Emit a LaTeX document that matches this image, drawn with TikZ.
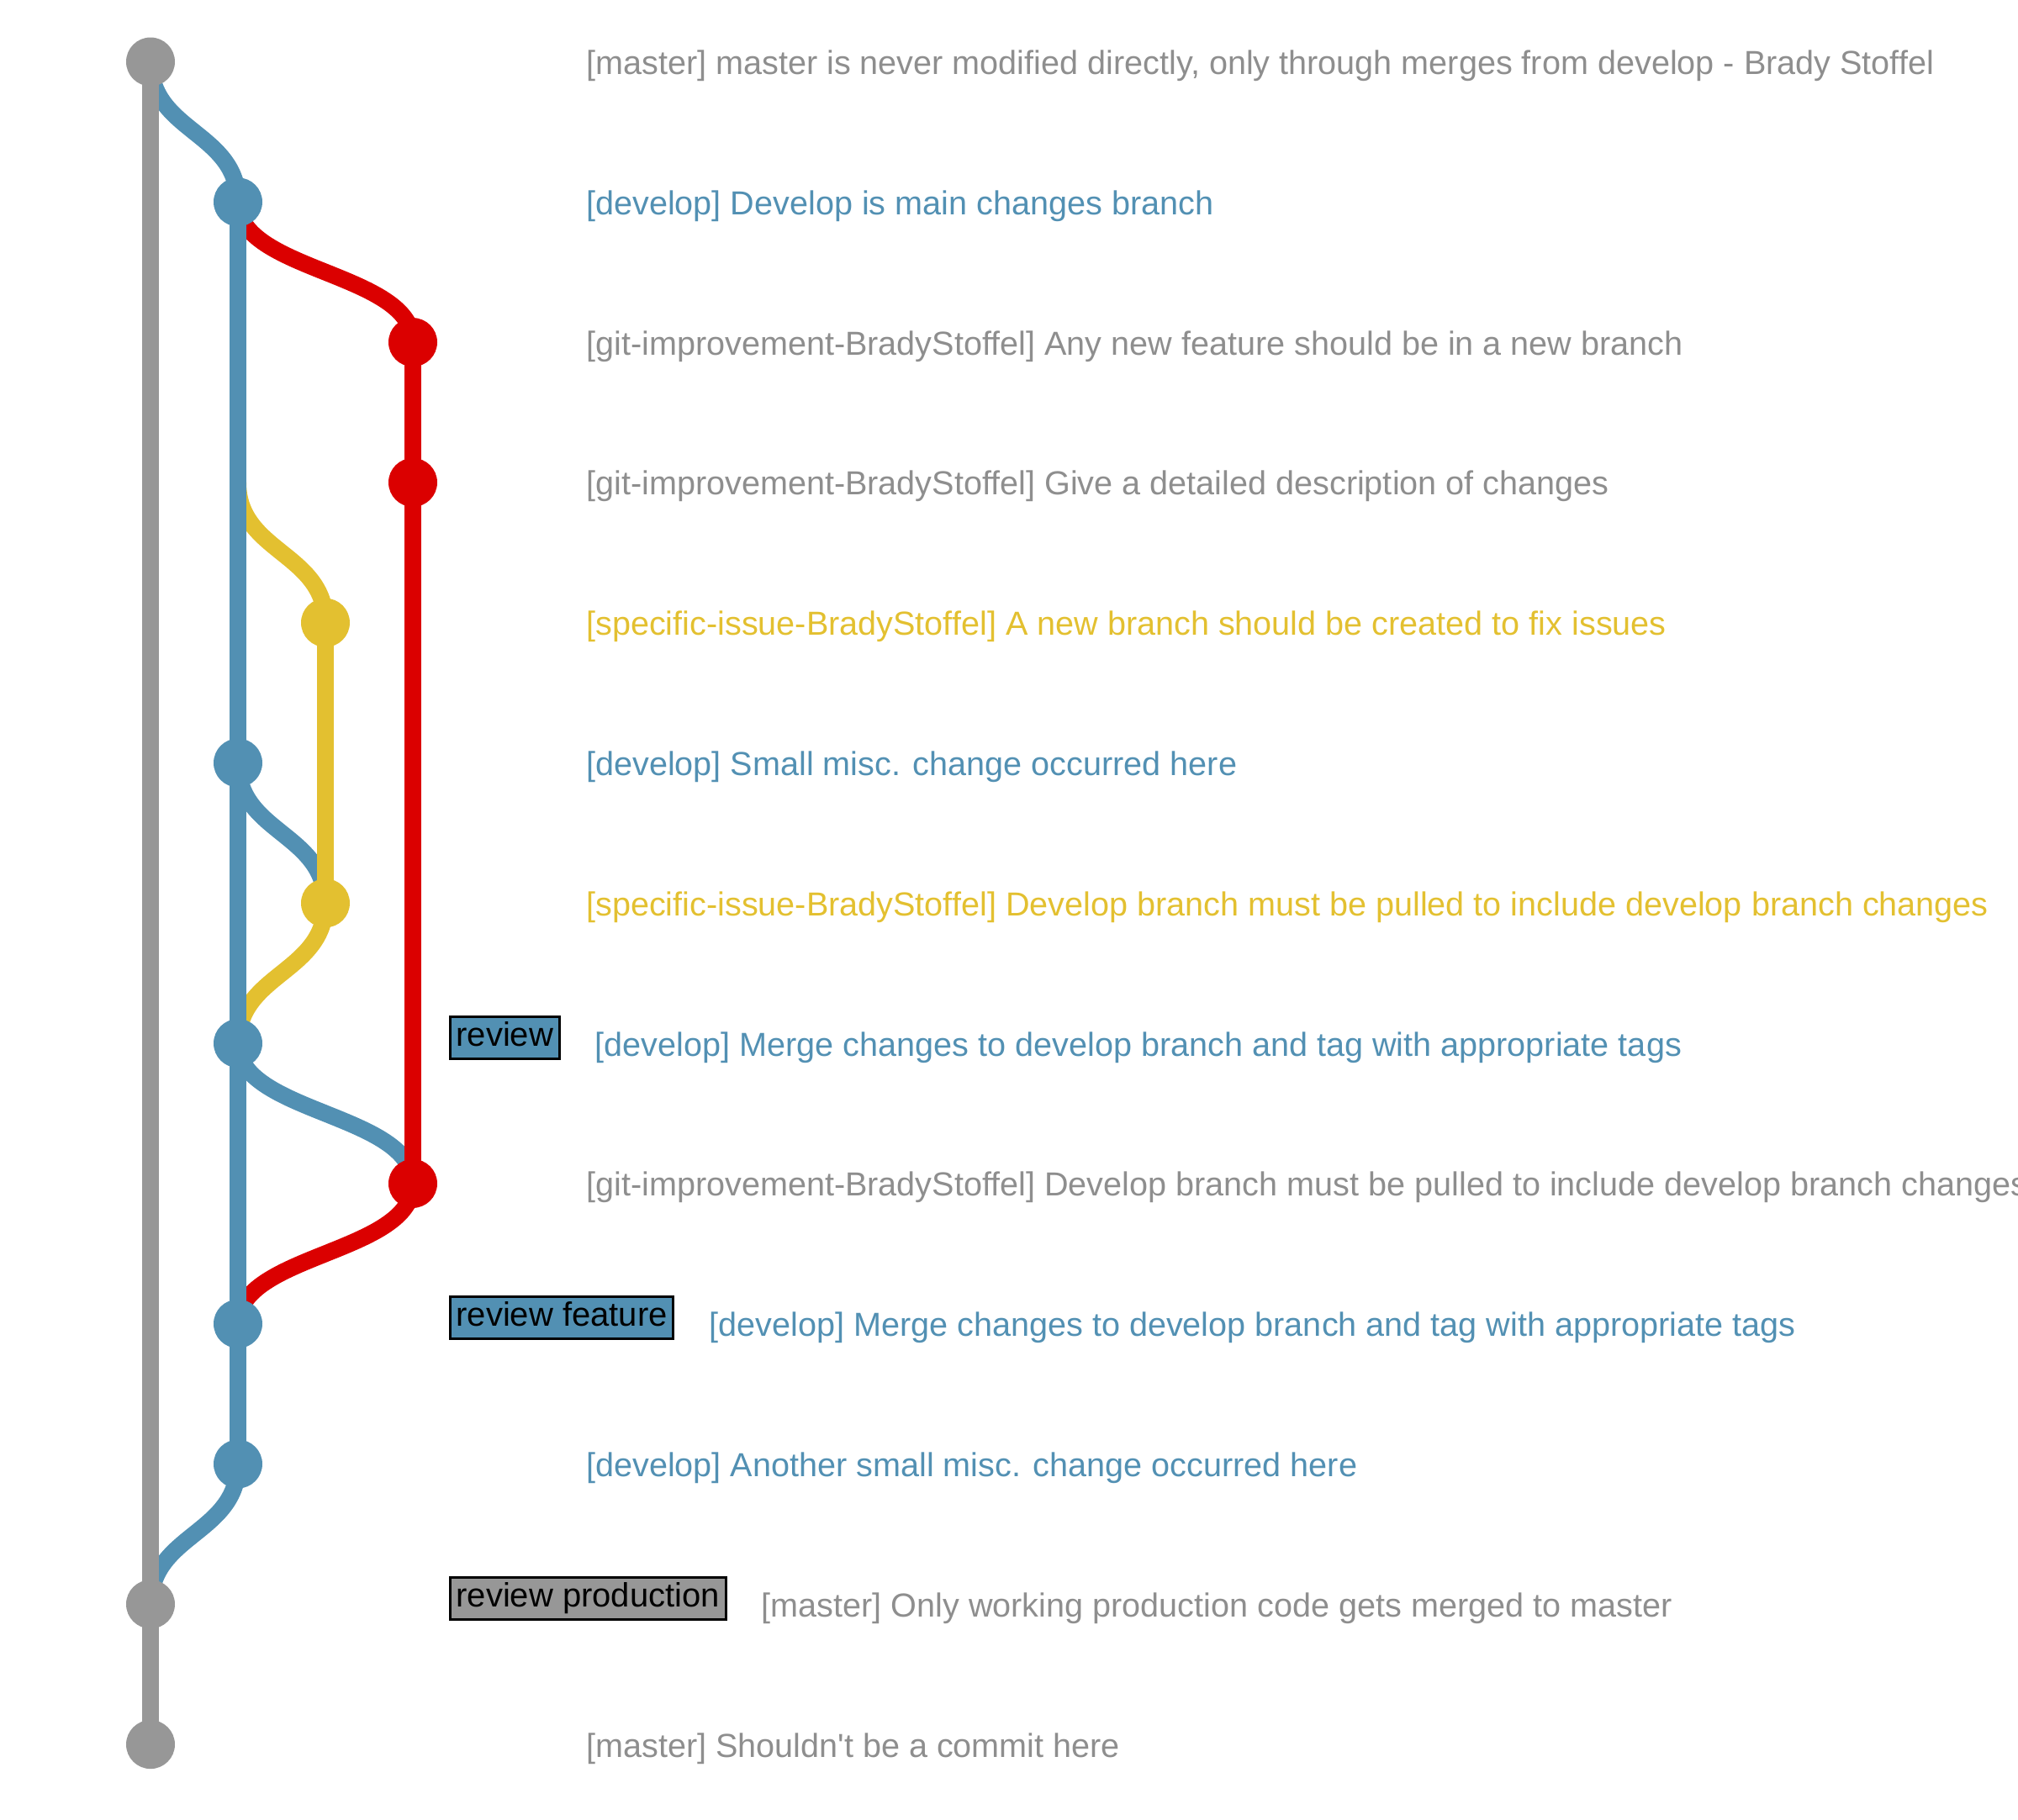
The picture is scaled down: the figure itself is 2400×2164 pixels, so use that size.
\documentclass[tikz,border=0pt]{standalone}
\usepackage{fontspec}
\setmainfont{Liberation Sans}[Ligatures=TeXOff]
\usetikzlibrary{backgrounds,calc}
\definecolor{cmaster}{HTML}{979797}
\definecolor{cdev}{HTML}{5290B3}
\definecolor{cfeat}{HTML}{DB0000}
\definecolor{cissue}{HTML}{E3C030}
\definecolor{ctxt}{HTML}{8E8E8E}
\begin{document}
\begin{tikzpicture}[x=1pt,y=-1pt,
  branchline/.style={line width=20pt},
  commit/.style={circle,inner sep=0pt,minimum size=58pt},
  msg/.style={anchor=base west,inner sep=0pt,font=\fontsize{39.6}{47}\selectfont},
  tagbox/.style={draw=black,line width=3pt,anchor=west,inner xsep=7pt,inner ysep=0pt,
    minimum height=50pt,text height=28pt,text depth=8pt,text=black,
    font=\fontsize{40}{47}\selectfont}]
\useasboundingbox (0,0) rectangle (2400,2164);
\clip (0,0) rectangle (2400,2164);

% commits
\node[commit,fill=cmaster] (c0)  at (179,73.5)   {};
\node[commit,fill=cdev]    (c1)  at (283,240.3)  {};
\node[commit,fill=cfeat]   (c2)  at (491,407.1)  {};
\node[commit,fill=cfeat]   (c3)  at (491,573.9)  {};
\coordinate (b3) at (283,573.9);
\node[commit,fill=cissue]  (c4)  at (387,740.7)  {};
\node[commit,fill=cdev]    (c5)  at (283,907.5)  {};
\node[commit,fill=cissue]  (c6)  at (387,1074.3) {};
\node[commit,fill=cdev]    (c7)  at (283,1241.1) {};
\node[commit,fill=cfeat]   (c8)  at (491,1407.9) {};
\node[commit,fill=cdev]    (c9)  at (283,1574.7) {};
\node[commit,fill=cdev]    (c10) at (283,1741.5) {};
\node[commit,fill=cmaster] (c11) at (179,1908.3) {};
\node[commit,fill=cmaster] (c12) at (179,2075.1) {};

\begin{pgfonlayer}{background}
% branch-off / merge curves
\draw[branchline,cdev]   (c0.center)  .. controls +(0,83.4) and +(0,-83.4) .. (c1.center);
\draw[branchline,cfeat]  (c1.center)  .. controls +(0,83.4) and +(0,-83.4) .. (c2.center);
\draw[branchline,cissue] (b3)         .. controls +(0,83.4) and +(0,-83.4) .. (c4.center);
\draw[branchline,cdev]   (c5.center)  .. controls +(0,83.4) and +(0,-83.4) .. (c6.center);
\draw[branchline,cissue] (c6.center)  .. controls +(0,83.4) and +(0,-83.4) .. (c7.center);
\draw[branchline,cdev]   (c7.center)  .. controls +(0,83.4) and +(0,-83.4) .. (c8.center);
\draw[branchline,cfeat]  (c8.center)  .. controls +(0,83.4) and +(0,-83.4) .. (c9.center);
\draw[branchline,cdev]   (c10.center) .. controls +(0,83.4) and +(0,-83.4) .. (c11.center);
% branch lines
\draw[branchline,cmaster] (c0.center) -- (c12.center);
\draw[branchline,cdev]    (c1.center) -- (c10.center);
\draw[branchline,cfeat]   (c2.center) -- (c8.center);
\draw[branchline,cissue]  (c4.center) -- (c6.center);
\end{pgfonlayer}

% messages
\node[msg,text=ctxt]   (m0)  at (697,88.5)   {[master] master is never modified directly, only through merges from develop - Brady Stoffel};
\node[msg,text=cdev]   (m1)  at (697,255.3)  {[develop] Develop is main changes branch};
\node[msg,text=ctxt]   (m2)  at (697,422.1)  {[git-improvement-BradyStoffel] Any new feature should be in a new branch};
\node[msg,text=ctxt]   (m3)  at (697,588.9)  {[git-improvement-BradyStoffel] Give a detailed description of changes};
\node[msg,text=cissue] (m4)  at (697,755.7)  {[specific-issue-BradyStoffel] A new branch should be created to fix issues};
\node[msg,text=cdev]   (m5)  at (697,922.5)  {[develop] Small misc. change occurred here};
\node[msg,text=cissue] (m6)  at (697,1089.3) {[specific-issue-BradyStoffel] Develop branch must be pulled to include develop branch changes};
\node[tagbox,fill=cdev] (t7) at (534,1234.1) {review};
\node[msg,text=cdev]   (m7)  at ($(t7.east)+(41,22)$) {[develop] Merge changes to develop branch and tag with appropriate tags};
\node[msg,text=ctxt]   (m8)  at (697,1422.9) {[git-improvement-BradyStoffel] Develop branch must be pulled to include develop branch changes};
\node[tagbox,fill=cdev] (t9) at (534,1567.7) {review feature};
\node[msg,text=cdev]   (m9)  at ($(t9.east)+(41,22)$) {[develop] Merge changes to develop branch and tag with appropriate tags};
\node[msg,text=cdev]   (m10) at (697,1756.5) {[develop] Another small misc. change occurred here};
\node[tagbox,fill=cmaster] (t11) at (534,1901.3) {review production};
\node[msg,text=ctxt]   (m11) at ($(t11.east)+(41,22)$) {[master] Only working production code gets merged to master};
\node[msg,text=ctxt]   (m12) at (697,2090.1) {[master] Shouldn't be a commit here};
\end{tikzpicture}
\end{document}
